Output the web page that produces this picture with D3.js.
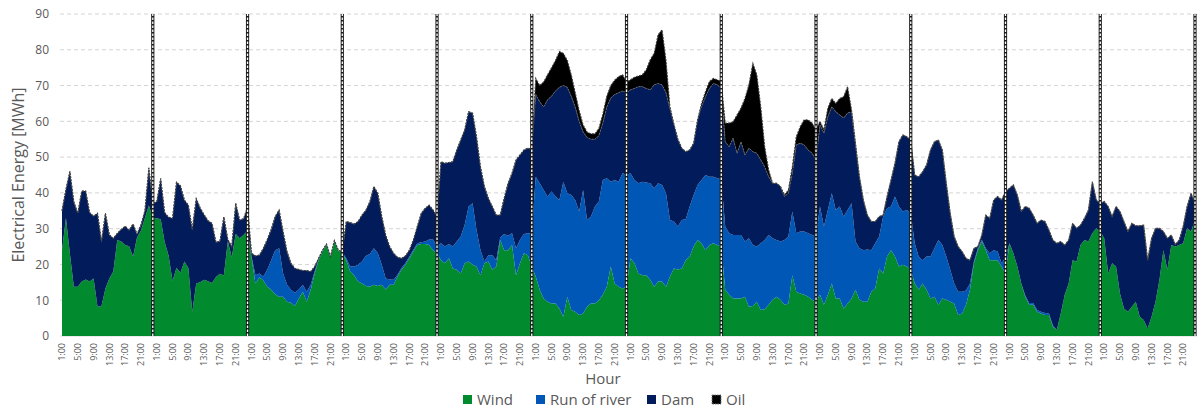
<!DOCTYPE html>
<html>
<head>
<meta charset="utf-8">
<script src="https://cdn.jsdelivr.net/npm/d3@7/dist/d3.min.js"></script>
<style>
  html, body { margin: 0; padding: 0; background: #fff; }
  svg { display: block; }
  text { font-family: "Open Sans", "Liberation Sans", sans-serif; fill: #595959; }
</style>
</head>
<body>
<svg id="chart" width="1200" height="409"></svg>
<script>
// Hour-of-day category labels (one day = 24 hourly steps)
const hours = d3.range(1, 25).map(h => h + ":00");
const dayCount = 12;
const yTicks = [0, 10, 20, 30, 40, 50, 60, 70, 80, 90];
const seriesNames = ["Wind", "Run of river", "Dam", "Oil"];
const seriesColors = ["#028a2e", "#0057b6", "#021c5b", "#000000"];

// Hourly energy by source [MWh], one row per day
const wind = [
  [24, 33, 23, 13.8, 13.8, 15.2, 15.8, 15.2, 16.1, 8.2, 8.4, 13.3, 16.1, 18, 26.8, 26.4, 25.4, 25.1, 22.2, 27.5, 29.5, 33, 36.5, 33],
  [32.9, 32.6, 26.3, 22.5, 15.4, 19.1, 17.7, 20.8, 19, 6.8, 14.7, 15, 15.7, 15.3, 14.8, 16.5, 17.4, 16.9, 26.5, 22, 28.5, 27.3, 28.2, 29.5],
  [22, 14.7, 16.4, 15.5, 13.8, 12.9, 11.7, 11, 11, 9.6, 9.3, 8.4, 10.5, 12.4, 9.6, 12.9, 17.5, 21.2, 23.7, 25.4, 22, 26.4, 23.8, 23.2],
  [21.2, 18, 17, 15.2, 14.7, 14, 13.8, 14.3, 14, 14.3, 13, 14.3, 14.3, 16.6, 18.5, 19.9, 21.7, 23.6, 25.4, 25.7, 25.7, 25.4, 24, 23.1],
  [21.2, 20.3, 21.7, 18.9, 18.5, 17.5, 20.3, 20.8, 19.9, 19.4, 17, 20.3, 20.8, 18.5, 19.4, 26.8, 24, 24, 25.4, 17, 20.3, 23.1, 22.6, 19.4],
  [16.6, 12.9, 10.5, 9.6, 9.1, 9.1, 7.7, 5.4, 11, 7.3, 6.8, 5.9, 6.3, 8.2, 9.1, 9.1, 10, 11.5, 13.8, 19.4, 14.7, 13.8, 13.3, 13.8],
  [21.7, 20.3, 17.5, 17, 17, 15.7, 13.8, 15.2, 15.2, 13.8, 16.6, 18.9, 18.6, 18.9, 21.2, 22.2, 25, 26.8, 25.9, 24, 25.4, 25.9, 25.4, 25],
  [12.9, 11.5, 10.5, 10.5, 10.5, 11, 8.2, 8.4, 9.6, 7.3, 7.5, 8.7, 10.1, 11, 10.1, 8.7, 9.1, 17, 12.4, 11.9, 11.5, 11, 10.1, 9.6],
  [11.5, 8.7, 11.5, 14.7, 10.5, 10.5, 7.7, 9.1, 10.5, 12.9, 10.1, 9.6, 9.6, 12.4, 13.3, 18.9, 17.5, 22.2, 24, 22.2, 19.4, 19.9, 19.4, 18.5],
  [14.7, 12.9, 14.7, 12.9, 10.5, 11, 8.7, 10.5, 10.1, 9.6, 9.1, 5.9, 6.3, 8.7, 12.9, 20.3, 24, 26.4, 24, 21.2, 21.2, 21.2, 19.4, 17.5],
  [25.9, 23.1, 19.4, 14.7, 11, 8.7, 8.7, 6.8, 6.3, 5.9, 5.9, 2.6, 1.7, 6.3, 11.5, 14.7, 21.2, 20.8, 25.4, 26.8, 26.4, 28.7, 30.1, 29.2],
  [27.3, 17.5, 20.3, 19.4, 11.9, 7.7, 6.8, 8.2, 9.6, 5.4, 4.5, 2.1, 5.4, 9.6, 15.7, 24, 18.5, 25.4, 25, 25.4, 25.9, 30.1, 29.2, 32.4]
].flat();

const river = [
  [0, 0, 0, 0, 0, 0, 0, 0, 0, 0, 0, 0, 0, 0, 0, 0, 0, 0, 0, 0, 0, 0, 0, 0],
  [0, 0, 0, 0, 0, 0, 0, 0, 0, 0, 0, 0, 0, 0, 0, 0, 0, 0, 0, 0, 0, 0, 0, 0],
  [0.3, 2.3, 1.1, 1.1, 4.7, 8.3, 12.3, 13.5, 6.5, 4.7, 3.6, 3.7, 2.5, 1.9, 2.8, 1.4, 0.5, 0.2, 0.1, 0.1, 0.1, 0.1, 0.1, 0.1],
  [0.5, 1.4, 2.4, 4.7, 6.1, 8.4, 9.1, 10.2, 9.1, 5.6, 3.1, 1.5, 1.4, 0.5, 0.5, 0.5, 0.5, 0.5, 0.5, 0.5, 0.7, 1.6, 3, 1.9],
  [4.7, 4.7, 4, 6.1, 7.9, 10.3, 10.7, 15.4, 17.2, 10.2, 7, 0.5, 1.8, 4.1, 1.8, 0.7, 4.5, 4, 3.3, 7.5, 6.5, 5.4, 6.1, 9.3],
  [27.9, 29.8, 30.3, 29.4, 31.3, 29.9, 30.3, 37.7, 28.9, 32.1, 31.2, 28.9, 34.5, 24.2, 24.3, 27.1, 27.6, 32.1, 30.3, 23.7, 28.9, 29.3, 32.2, 31.2],
  [23.8, 23.3, 25.2, 26.1, 25.9, 27, 27.5, 27.5, 27, 26.1, 15.8, 13.1, 12, 13.5, 11.4, 14, 14.4, 15.4, 17.7, 21, 19.1, 18.6, 18.7, 18.8],
  [17.7, 17.2, 17.7, 17.7, 17.7, 15.4, 19.1, 17, 15.4, 18.6, 19.3, 19.5, 17.2, 15.8, 16.3, 18.1, 18.7, 17.8, 16.3, 17.3, 17.7, 17.7, 18.1, 18.2],
  [24.7, 21.9, 23.7, 25.2, 24.7, 25.7, 25.7, 26.1, 26.6, 13.5, 14.4, 14.4, 14.6, 11.6, 12.6, 8.9, 15.9, 13.5, 12.2, 16.8, 16.8, 14.9, 15.8, 15.8],
  [11.2, 9.3, 6.5, 9.3, 11.7, 13.5, 18.1, 14.9, 12.1, 8.9, 5.6, 6.5, 6.1, 4, 1.8, 0.5, 0.5, 0.5, 0.5, 1.9, 2.8, 2.4, 0.9, 4.5],
  [0, 0, 0, 0, 0.3, 0.5, 0.5, 0.5, 0.5, 0.5, 0.4, 0.3, 0, 0, 0, 0, 0, 0, 0, 0, 0, 0, 0, 0],
  [0, 0, 0, 0, 0, 0, 0, 0, 0, 0, 0, 0, 0, 0, 0, 0, 0, 0, 0, 0, 0, 0, 0, 0]
].flat();

const dam = [
  [11, 8, 23, 23.7, 20.5, 25.3, 24.7, 19.3, 17.4, 26.1, 18, 21, 12.2, 9.3, 1.9, 3.4, 5.3, 4.5, 9.1, 1, 1.5, 2, 10.5, 4],
  [4.6, 11.4, 8.2, 10.7, 17.5, 23.9, 24.3, 17.2, 17.6, 23, 23.7, 20.8, 18.2, 16.9, 16.7, 9.7, 9.1, 16.4, 0.5, 3, 8.6, 5.1, 4.6, 6.5],
  [0.8, 5.4, 5.1, 7.9, 8.5, 8.6, 9.4, 10.7, 11.7, 9.3, 7.4, 6.8, 5.6, 4, 5.9, 3.7, 1.4, 0.3, 0.2, 0.2, 0.1, 0.2, 0.1, 0.2],
  [10.3, 12.3, 11.9, 12.1, 13, 12.8, 14.7, 17.3, 16.8, 13.5, 12.1, 9.2, 7.4, 4.9, 2.7, 2, 1.8, 2.7, 4.7, 8.1, 9.3, 9.6, 8.2, 8.4],
  [22.8, 23.3, 22.8, 23.7, 25.6, 27, 26.6, 26.5, 25.2, 26.1, 23.3, 21, 15.9, 13.6, 12.6, 6.3, 10, 14.7, 16.8, 24.7, 23.8, 23.5, 23.8, 23.5],
  [23, 22.8, 23.2, 27, 26.6, 29.5, 31.5, 26.9, 29.6, 27.6, 26, 25.2, 16.2, 23.1, 21.6, 18.8, 18.4, 15.9, 19.9, 23.4, 23.9, 24.9, 23, 23],
  [23.3, 25.6, 27, 26.6, 26.3, 26.1, 28.9, 27.9, 28, 28.1, 31.1, 27.2, 24.4, 20.1, 18.9, 15.8, 14.5, 18.2, 20.5, 21.9, 24.7, 26.1, 26.1, 25.4],
  [23.7, 24.2, 27.1, 22.9, 26.1, 24.2, 25.2, 26.1, 26.1, 23.3, 20.5, 16.3, 15.4, 15.9, 15.4, 12.2, 12.1, 10.7, 24.7, 24.7, 24.2, 23.3, 22.9, 21.4],
  [22.8, 26.1, 26.1, 24.2, 27.5, 25.6, 27.5, 27.1, 25.6, 27, 20, 14, 9.6, 8, 6.1, 5.6, 0.4, 3.3, 7.4, 9.3, 18.1, 21.4, 20.5, 20.5],
  [19.1, 22.3, 24.7, 25.6, 29.8, 29.8, 28, 26.6, 20.5, 15.8, 13.1, 12.6, 11.2, 9, 6.5, 3.7, 0.5, 1.3, 9.3, 9.8, 14, 15.4, 17.7, 18.4],
  [15.4, 19.1, 20, 20.1, 24.9, 26.5, 24.6, 24.2, 25.6, 25.6, 23.3, 23.9, 24.2, 20.1, 13.9, 12.1, 10.3, 9.3, 5.6, 6.1, 8.8, 14.4, 7.9, 7.9],
  [10.3, 18.7, 13.1, 16.8, 22.9, 24.3, 22.4, 23.3, 21.2, 25.4, 26.5, 19.1, 21.9, 20.5, 14.4, 5.2, 8.8, 2.8, 0.6, 1.4, 4.7, 6.1, 10.7, 4.7]
].flat();

const oil = [
  [0, 0, 0, 0, 0, 0, 0, 0, 0, 0, 0, 0, 0, 0, 0, 0, 0, 0, 0, 0, 0, 0, 0, 0],
  [0, 0, 0, 0, 0, 0, 0, 0, 0, 0, 0, 0, 0, 0, 0, 0, 0, 0, 0, 0, 0, 0, 0, 0],
  [0, 0, 0, 0, 0, 0, 0, 0, 0, 0, 0, 0, 0, 0, 0, 0, 0, 0, 0, 0, 0, 0, 0, 0],
  [0, 0, 0, 0, 0, 0, 0, 0, 0, 0, 0, 0, 0, 0, 0, 0, 0, 0, 0, 0, 0, 0, 0, 0],
  [0, 0, 0, 0, 0, 0, 0, 0, 0, 0, 0, 0, 0, 0, 0, 0, 0, 0, 0, 0, 0, 0, 0, 0],
  [4.5, 4.5, 7, 7, 8, 8.5, 10, 9, 7.5, 6, 4, 3, 2, 1.5, 1.5, 1.5, 2, 2.5, 3, 3.5, 4, 4.5, 4.5, 3],
  [2.8, 3.1, 3, 3.3, 5.2, 8.4, 8.8, 13.6, 15.4, 9, 0.5, 0, 0, 0, 0, 0, 0, 0, 0.9, 1.4, 1.9, 1.4, 1.4, 1.9],
  [5.2, 6.6, 4.6, 10.7, 9.4, 15.8, 17.7, 24.7, 21.9, 14.9, 5.6, 1.9, 0, 0, 0, 0.4, 0.9, 1.8, 2.3, 4.6, 7, 8.4, 8.4, 8.4],
  [1, 0.9, 2.4, 2.3, 2.3, 4.6, 6, 7.4, 0.5, 0.5, 0, 0, 0, 0, 0, 0, 0, 0, 0, 0, 0, 0, 0, 0],
  [0, 0, 0, 0, 0, 0, 0, 0, 0, 0, 0, 0, 0, 0, 0, 0, 0, 0, 0, 0, 0, 0, 0, 0],
  [0, 0, 0, 0, 0, 0, 0, 0, 0, 0, 0, 0, 0, 0, 0, 0, 0, 0, 0, 0, 0, 0, 0, 0],
  [0, 0, 0, 0, 0, 0, 0, 0, 0, 0, 0, 0, 0, 0, 0, 0, 0, 0, 0, 0, 0, 0, 0, 0]
].flat();

// ---- build rows for the stack ----
const N = wind.length;
const rows = d3.range(N).map(i => ({
  idx: i,
  hour: hours[i % 24],
  "Wind": wind[i],
  "Run of river": river[i],
  "Dam": dam[i],
  "Oil": oil[i]
}));

const svg = d3.select("#chart");
const plot = { left: 62, right: 1195, top: 14, bottom: 336 };

const x = d3.scaleLinear().domain([0, N - 1]).range([plot.left, plot.right]);
const y = d3.scaleLinear().domain([0, 90]).range([plot.bottom, plot.top]);

// horizontal dashed gridlines
svg.append("g")
  .selectAll("line")
  .data(yTicks.filter(v => v > 0))
  .join("line")
  .attr("x1", 60).attr("x2", 1197)
  .attr("y1", d => y(d)).attr("y2", d => y(d))
  .attr("stroke", "#d4d4d4")
  .attr("stroke-width", 1)
  .attr("stroke-dasharray", "4,3");

// baseline
svg.append("line")
  .attr("x1", 60).attr("x2", 1197)
  .attr("y1", y(0)).attr("y2", y(0))
  .attr("stroke", "#d9d9d9").attr("stroke-width", 1);

// y axis labels
const yAxis = d3.axisLeft(y).tickValues(yTicks).tickSize(0).tickPadding(0);
const gy = svg.append("g").attr("transform", "translate(49,0)").call(yAxis);
gy.select(".domain").remove();
gy.selectAll("text")
  .attr("font-size", 12)
  .attr("font-family", "Open Sans")
  .attr("fill", "#595959");

// stacked areas
const stack = d3.stack().keys(seriesNames);
const layers = stack(rows);
const area = d3.area()
  .x((d, i) => x(i))
  .y0(d => y(d[0]))
  .y1(d => y(d[1]));

svg.append("g")
  .selectAll("path")
  .data(layers)
  .join("path")
  .attr("d", area)
  .attr("fill", (d, i) => seriesColors[i]);

// dashed outline on the oil layer (marks the top of the stack)
const oilLayer = layers[3];
svg.append("path")
  .datum(oilLayer)
  .attr("d", d3.line().x((d, i) => x(i)).y(d => y(d[0])))
  .attr("fill", "none")
  .attr("stroke", "#6a6a6a")
  .attr("stroke-width", 0.9)
  .attr("stroke-dasharray", "2,1.2");
svg.append("path")
  .datum(oilLayer)
  .attr("d", d3.line().x((d, i) => x(i)).y(d => y(d[1])))
  .attr("fill", "none")
  .attr("stroke", "#3c3c3c")
  .attr("stroke-width", 1.1)
  .attr("stroke-dasharray", "2,1.2");

// day separators at the last hour of each day
const dayEnds = d3.range(1, dayCount + 1).map(d => d * 24 - 1);
const sep = svg.append("g");
sep.selectAll("line.outer")
  .data(dayEnds)
  .join("line")
  .attr("class", "outer")
  .attr("x1", d => x(d)).attr("x2", d => x(d))
  .attr("y1", y(0)).attr("y2", y(90))
  .attr("stroke", "#1a1a1a").attr("stroke-width", 3.2);
sep.selectAll("line.inner")
  .data(dayEnds)
  .join("line")
  .attr("class", "inner")
  .attr("x1", d => x(d)).attr("x2", d => x(d))
  .attr("y1", y(0)).attr("y2", y(90))
  .attr("stroke", "#fff").attr("stroke-width", 1.3)
  .attr("stroke-dasharray", "2.5,1.5");

// x tick labels every 4 hours, rotated
const tickIdx = d3.range(N).filter(i => (i % 24) % 4 === 0);
svg.append("g")
  .selectAll("text")
  .data(tickIdx)
  .join("text")
  .attr("transform", i => `translate(${x(i)},343) rotate(-90)`)
  .attr("text-anchor", "end")
  .attr("dy", "0.35em")
  .attr("font-size", 9)
  .text(i => rows[i].hour);

// axis titles
svg.append("text")
  .attr("x", 603).attr("y", 384)
  .attr("text-anchor", "middle")
  .attr("font-size", 15)
  .text("Hour");

svg.append("text")
  .attr("transform", "translate(24,175) rotate(-90)")
  .attr("text-anchor", "middle")
  .attr("font-size", 16)
  .text("Electrical Energy [MWh]");

// legend
const legendX = [463, 536, 647, 712];
const lg = svg.append("g");
seriesNames.forEach((name, i) => {
  const g = lg.append("g").attr("transform", `translate(${legendX[i]},395)`);
  g.append("rect")
    .attr("width", 9).attr("height", 9)
    .attr("fill", seriesColors[i])
    .attr("stroke", i === 3 ? "#777" : "none")
    .attr("stroke-dasharray", i === 3 ? "1.5,1" : null)
    .attr("stroke-width", 1);
  g.append("text")
    .attr("x", 14).attr("y", 9.5)
    .attr("font-size", 15)
    .text(name);
});
</script>
</body>
</html>
